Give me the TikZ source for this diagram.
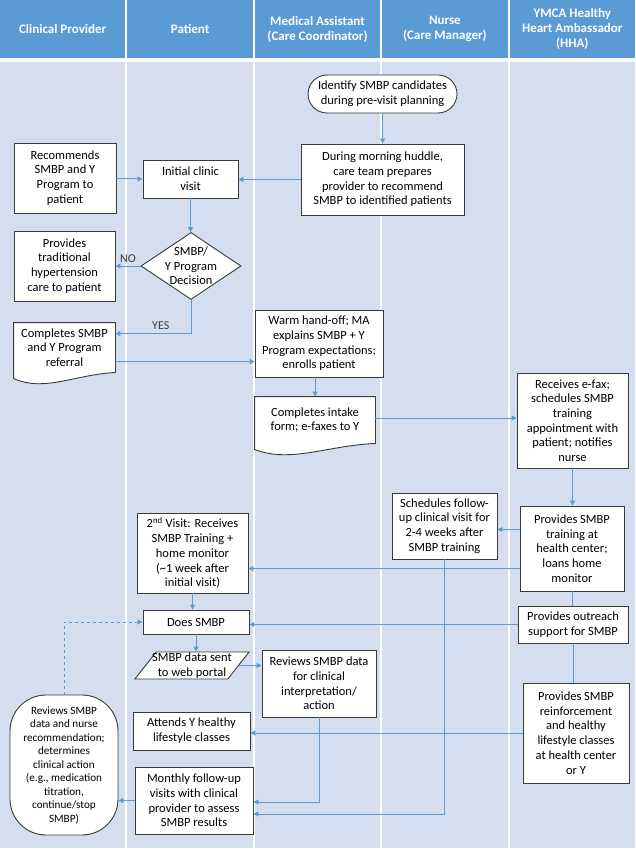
\documentclass[tikz,border=0pt]{standalone}
\usepackage{fontspec}
\setmainfont{Carlito}
\usepackage{tikz}
\usetikzlibrary{positioning,
                calc,
                arrows.meta,
                shapes.geometric,
                backgrounds}
\definecolor{laneblue}{HTML}{D4DEEF}
\definecolor{headblue}{HTML}{5B9BD5}
\definecolor{flowblue}{HTML}{5B9BD5}
\definecolor{boxgray}{HTML}{3A3A3A}

\begin{document}
\begin{tikzpicture}[x=1pt,y=1pt]

\tikzset{
stepbox/.style={
draw=boxgray,
fill=white,
line width=0.9pt,
align=center,
inner sep=2pt,
font=\fontsize{12.5}{14.7}\selectfont
},
docbox/.style={
stepbox,
draw=none,
fill=none
},
termbox/.style={
stepbox,
rounded corners=19pt
},
decbox/.style={
stepbox,
diamond,
inner xsep=-12pt,
inner ysep=-8pt
},
databox/.style={
stepbox,
trapezium,
trapezium left angle=50,
trapezium right angle=130,
trapezium stretches=true,
inner xsep=-4pt,
inner ysep=0pt
},
lanehead/.style={
fill=headblue,
text=white,
align=center,
inner sep=0pt,
minimum width=125.4pt,
minimum height=58pt,
font=\fontsize{13}{15}\selectfont\bfseries
},
flow/.style={
draw=flowblue,
line width=1pt,
-{Triangle[length=5pt,width=5pt]}
},
link/.style={
draw=flowblue,
line width=1pt
},
flowlabel/.style={
text=boxgray,
font=\fontsize{12}{14}\selectfont
}
}

\useasboundingbox (0,0) rectangle (635,-850);

%--------------------------------------------------
% LANES
%--------------------------------------------------

\begin{scope}[on background layer]
\fill[laneblue] (0,-62) rectangle (125.4,-848);
\fill[laneblue] (127.4,-62) rectangle (252.8,-848);
\fill[laneblue] (254.8,-62) rectangle (380.2,-848);
\fill[laneblue] (382.2,-62) rectangle (507.6,-848);
\fill[laneblue] (509.6,-62) rectangle (635,-848);
\end{scope}

\node[lanehead] (hprov) at (62.7,-29) {Clinical Provider};
\node[lanehead] (hpat) at (190.1,-29) {Patient};
\node[lanehead] (hma) at (317.5,-29) {Medical Assistant\\(Care Coordinator)};
\node[lanehead] (hnurse) at (444.9,-29) {Nurse\\(Care Manager)};
\node[lanehead] (hhha) at (572.3,-29) {YMCA Healthy\\Heart Ambassador\\(HHA)};

%--------------------------------------------------
% CLINICAL PROVIDER
%--------------------------------------------------

\node[stepbox, minimum width=102pt, minimum height=70pt]
(recommend) at (65,-178)
{Recommends\\SMBP and Y\\Program to\\patient};

\node[stepbox, minimum width=101pt, minimum height=70pt]
(tradcare) at (64.5,-266)
{Provides\\traditional\\hypertension\\care to patient};

\node[docbox, minimum width=101pt, minimum height=49pt]
(cpref) at (64.5,-347.5)
{Completes SMBP\\and Y Program\\referral};

\node[stepbox, rounded corners=36pt, minimum width=108pt, minimum height=140pt,
font=\fontsize{11.2}{13.5}\selectfont]
(cpreview) at (64,-765)
{Reviews SMBP\\data and nurse\\recommendation;\\determines\\clinical action\\(e.g., medication\\titration,\\continue/stop\\SMBP)};

%--------------------------------------------------
% PATIENT
%--------------------------------------------------

\node[stepbox, minimum width=95pt, minimum height=38pt]
(initial) at (190.5,-179)
{Initial clinic\\visit};

\node[decbox, minimum width=100pt, minimum height=67pt]
(decision) at (191,-266)
{SMBP/\\Y Program\\Decision};

\node[stepbox, minimum width=111pt, minimum height=80pt]
(secondvisit) at (192.5,-553)
{2\textsuperscript{nd} Visit: Receives\\SMBP Training +\\home monitor\\(\textasciitilde1 week after\\initial visit)};

\node[stepbox, minimum width=106pt, minimum height=24pt]
(doessmbp) at (196,-622)
{Does SMBP};

\node[databox, minimum width=114pt, minimum height=27pt]
(portal) at (192,-665.5)
{SMBP data sent\\to web portal};

\node[stepbox, minimum width=117pt, minimum height=38pt]
(attends) at (191.5,-731)
{Attends Y healthy\\lifestyle classes};

\node[stepbox, minimum width=118pt, minimum height=67pt]
(monthly) at (194,-800.5)
{Monthly follow-up\\visits with clinical\\provider to assess\\SMBP results};

%--------------------------------------------------
% MEDICAL ASSISTANT
%--------------------------------------------------

\node[termbox, minimum width=149pt, minimum height=38pt]
(ident) at (382.5,-94)
{Identify SMBP candidates\\during pre-visit planning};

\node[stepbox, minimum width=163pt, minimum height=71pt]
(huddle) at (382.5,-179.5)
{During morning huddle,\\care team prepares\\provider to recommend\\SMBP to identified patients};

\node[stepbox, minimum width=128pt, minimum height=67pt]
(warm) at (319,-343.5)
{Warm hand-off; MA\\explains SMBP + Y\\Program expectations;\\enrolls patient};

\node[docbox, minimum width=120pt, minimum height=46pt]
(intake) at (315,-420)
{Completes intake\\form; e-faxes to Y};

\node[stepbox, minimum width=114pt, minimum height=67pt]
(reviewdata) at (319,-683.5)
{Reviews SMBP data\\for clinical\\interpretation/\\action};

%--------------------------------------------------
% NURSE
%--------------------------------------------------

\node[stepbox, minimum width=105pt, minimum height=66pt]
(followup) at (444.5,-526)
{Schedules follow-\\up clinical visit for\\2-4 weeks after\\SMBP training};

%--------------------------------------------------
% YMCA HHA
%--------------------------------------------------

\node[stepbox, minimum width=111pt, minimum height=95pt]
(efax) at (572.5,-420.5)
{Receives e-fax;\\schedules SMBP\\training\\appointment with\\patient; notifies\\nurse};

\node[stepbox, minimum width=104pt, minimum height=85pt]
(training) at (572,-548.5)
{Provides SMBP\\training at\\health center;\\loans home\\monitor};

\node[stepbox, minimum width=110pt, minimum height=37pt]
(outreach) at (573,-624.5)
{Provides outreach\\support for SMBP};

\node[stepbox, minimum width=106pt, minimum height=100pt]
(reinforce) at (576,-733)
{Provides SMBP\\reinforcement\\and healthy\\lifestyle classes\\at health center\\or Y};

% document outlines
\begin{scope}[on background layer]
\draw[draw=boxgray, fill=white, line width=0.9pt]
(cpref.north west) -- (cpref.north east) -- (cpref.south east)
.. controls ([xshift=-40pt,yshift=-2pt]cpref.south east)
and ([xshift=30pt,yshift=-20pt]cpref.south west)
.. ([yshift=-6pt]cpref.south west) -- cycle;
\draw[draw=boxgray, fill=white, line width=0.9pt]
(intake.north west) -- (intake.north east) -- (intake.south east)
.. controls ([xshift=-48pt,yshift=-2pt]intake.south east)
and ([xshift=36pt,yshift=-20pt]intake.south west)
.. ([yshift=-6pt]intake.south west) -- cycle;
\end{scope}

%--------------------------------------------------
% CONNECTORS
%--------------------------------------------------

\draw[flow] (ident) -- (huddle);
\draw[flow] (huddle.west) -- (huddle.west -| initial.east);
\draw[flow] (recommend.east |- initial) -- (initial.west);
\draw[flow] (initial.south) -- (initial.south |- decision.north);
\draw[flow] (decision.west) -- (decision.west -| tradcare.east)
node[flowlabel, midway, above] {NO};
\draw[flow] (decision.south) |- ([yshift=14pt]cpref.east)
node[flowlabel, pos=0.7, above] {YES};
\draw[flow] ([yshift=-14pt]cpref.east) -- ([yshift=-14pt]cpref.east -| warm.west);
\draw[flow] (warm.south -| intake.north) -- (intake.north);
\draw[flow] ([yshift=2pt]intake.east) -- ([yshift=2pt]intake.east -| efax.west);
\draw[flow] (efax.south) -- (efax.south |- training.north);
\draw[flow] ([yshift=19pt]training.west) -- ([yshift=19pt]training.west -| followup.east);
\draw[flow] ([yshift=-20pt]training.west) -- ([yshift=-20pt]training.west -| secondvisit.east);
\draw[link] (training.south) -- (training.south |- outreach.north);
\draw[flow] (outreach.west) -- (outreach.west -| doessmbp.east);
\draw[link] (outreach.south) -- (outreach.south |- reinforce.north);
\draw[flow] (secondvisit.south) -- (secondvisit.south |- doessmbp.north);
\draw[flow] (doessmbp.south) -- (doessmbp.south |- portal.north);
\draw[flow] (portal.east) -- (portal.east -| reviewdata.west);
\draw[flow] (reviewdata.south) |- ([yshift=-1.5pt]monthly.east);
\draw[flow] (followup.south) |- ([yshift=-13.5pt]monthly.east);
\draw[flow] (reinforce.west) -- (reinforce.west -| attends.east);
\draw[flow] (monthly.west) -- (monthly.west -| cpreview.east);
\draw[flow, dashed] (cpreview.north) |- (doessmbp.west);

\end{tikzpicture}
\end{document}
